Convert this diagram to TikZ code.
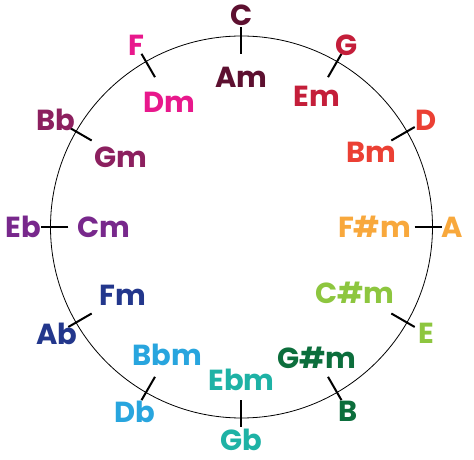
\documentclass[tikz,border=0pt]{standalone}
\usepackage{fontspec}
\setmainfont{Poppins}
\usepackage{tikz}
\definecolor{keyC}{RGB}{93,16,48}
\definecolor{keyG}{RGB}{196,30,58}
\definecolor{keyD}{RGB}{235,64,52}
\definecolor{keyA}{RGB}{248,168,60}
\definecolor{keyE}{RGB}{141,198,63}
\definecolor{keyB}{RGB}{12,110,60}
\definecolor{keyGb}{RGB}{30,178,165}
\definecolor{keyDb}{RGB}{40,165,222}
\definecolor{keyAb}{RGB}{35,55,140}
\definecolor{keyEb}{RGB}{120,40,140}
\definecolor{keyBb}{RGB}{140,32,95}
\definecolor{keyF}{RGB}{232,24,140}

\begin{document}
\begin{tikzpicture}[x=1pt,y=1pt,
  keylabel/.style={font=\fontsize{29}{29}\selectfont\bfseries,inner sep=0pt,anchor=center},
  tickmark/.style={line width=2pt,black}]
\useasboundingbox (-241.5,-233) rectangle (232.5,227);
\draw[line width=0.8pt] (0,0) circle (191);
% major keys outside, relative minors inside
\foreach \i/\maj/\mn/\col/\rmaj/\rmn in {0/C/Am/keyC/212/150, 1/G/Em/keyG/210/151,
    2/D/Bm/keyD/213/150, 3/A/F\#m/keyA/211/133, 4/E/C\#m/keyE/213/131,
    5/B/G\#m/keyB/213/151, 6/Gb/Ebm/keyGb/213/153, 7/Db/Bbm/keyDb/214/148,
    8/Ab/Fm/keyAb/213/137, 9/Eb/Cm/keyEb/218/138, 10/Bb/Gm/keyBb/214/139,
    11/F/Dm/keyF/210/144} {
  \pgfmathtruncatemacro{\ang}{90-30*\i}
  \coordinate (out\i) at (\ang:200);
  \coordinate (in\i) at (\ang:173);
  \draw[tickmark] (in\i) -- (out\i);
  \node[keylabel,text=\col] (maj\i) at (\ang:\rmaj) {\maj};
  \node[keylabel,text=\col] (min\i) at (\ang:\rmn) {\mn};
}
\end{tikzpicture}
\end{document}
